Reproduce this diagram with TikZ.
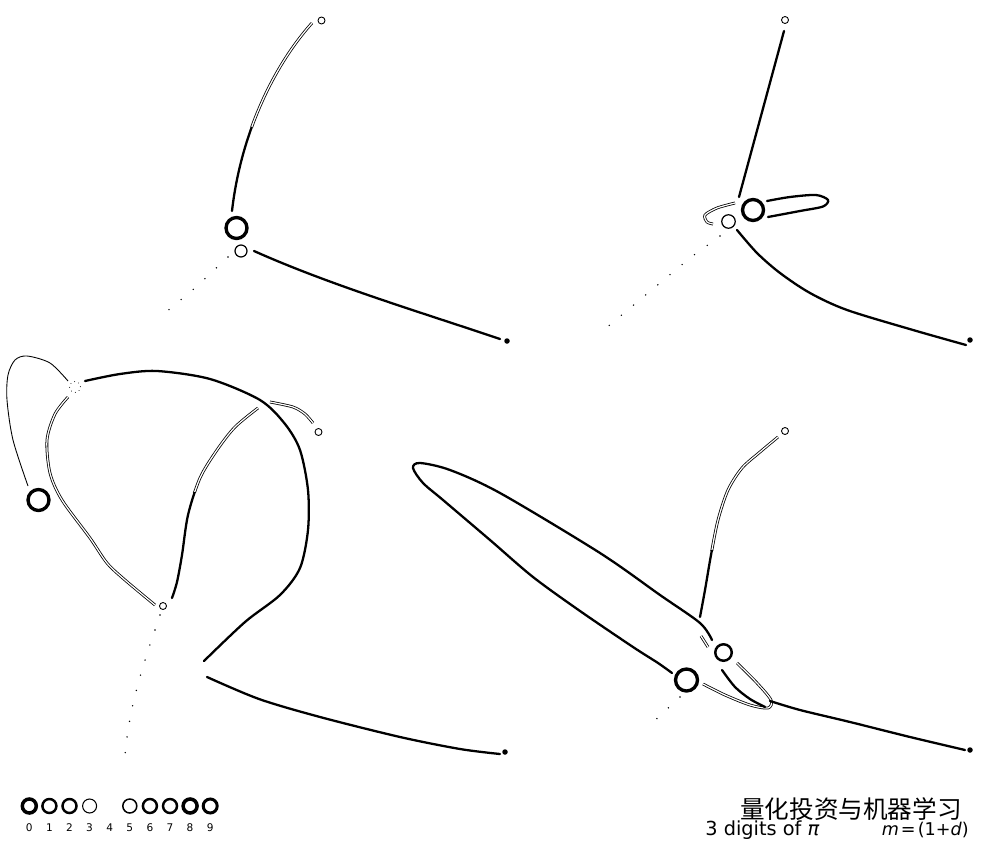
\documentclass[tikz,border=0pt]{standalone}
\usepackage{fontspec}
\newfontfamily\capfont{DejaVu Sans}
\newfontfamily\cjkfont{Noto Sans CJK SC}
\begin{document}
\begin{tikzpicture}[
  x=0.2mm, y=-0.2mm,
  body/.style={circle, draw, inner sep=0pt},
  bigbody/.style={body, line width=1.9pt, minimum size=4.2mm},
  midbody/.style={body, line width=1.4pt, minimum size=3.3mm},
  smallbody/.style={body, line width=0.7pt, minimum size=2.4mm},
  tinybody/.style={body, line width=0.5pt, minimum size=1.4mm},
  endpoint/.style={circle, fill, inner sep=0pt, minimum size=1.1mm},
  trail/.style={line width=1.3pt, line cap=round},
  thintrail/.style={line width=0.5pt},
  hollow/.style={double, double distance=0.7pt, line width=0.45pt},
  ghost/.style={line width=0.9pt, line cap=round, dash pattern=on 0pt off 9pt},
  keyring/.style={body, minimum size=2.8mm},
  keylabel/.style={font=\capfont\fontsize{6}{7}\selectfont, inner sep=0pt}
]
\useasboundingbox (0,0) rectangle (1000,857);

% top left
\node[tinybody] (s1) at (321.5,20.5) {};
\node[bigbody] (b1) at (236.5,228) {};
\node[smallbody] (m1) at (241,251) {};
\node[endpoint] (e1) at (507,341) {};
\coordinate (bend1) at (251.5,127.7);
\draw[hollow] (312,23) .. controls (286.8,51.2) and (265.9,87.7) .. (bend1);
\draw[trail] (bend1) .. controls (241.9,154.4) and (235.2,182.6) .. (232,211);
\draw[trail] (254,251) .. controls (330,285) and (420,312) .. (500,339);
\draw[ghost] (228,257) -- (196,287) -- (165,313);

% top right
\node[tinybody] (s2) at (785,20) {};
\node[bigbody] (b2) at (753,210) {};
\node[smallbody, minimum size=2.7mm] (m2) at (728.5,221.5) {};
\node[endpoint] (e2) at (970,340) {};
\draw[trail] (784,31) -- (739,197);
\draw[trail] plot[smooth] coordinates {(767,201) (790,197) (816,195) (828,200) (823,206.5) (800,211) (768,217)};
\draw[hollow] plot[smooth] coordinates {(735,203) (717,208) (705,215) (707,222) (713,224)};
\draw[trail] plot[smooth] coordinates {(737,230) (757,253) (780,273) (810,293) (847,310) (913,330) (966,345)};
\draw[ghost] (720,236) -- (690,258) -- (600,333);

% bottom left
\node[bigbody] (b3) at (38.5,500) {};
\node[tinybody] (s3) at (318.5,432) {};
\node[body, dotted, minimum size=2.2mm] (f3) at (75,387) {};
\node[tinybody] (m3) at (163,606) {};
\node[endpoint] (e3) at (505,752) {};
\draw[thintrail] plot[smooth] coordinates {(28,486) (13,440) (7,400) (8,375) (15,360) (27,356) (50,363) (68,381)};
\draw[trail] plot[smooth] coordinates {(85,381) (120,374) (157,371) (210,379) (260,400) (285,424) (300,450) (308,490) (308,530) (300,568) (280,595) (245,622) (204,661)};
\draw[trail] plot[smooth] coordinates {(207,677) (259,699) (320,717) (400,737) (460,749) (500,754)};
\draw[hollow] plot[smooth] coordinates {(68,397) (55,414) (47,440) (50,473) (62,500) (90,538) (107,563) (125,580) (155,605)};
\begin{scope}
  \clip (150,395) rectangle (275,492);
  \draw[hollow] plot[smooth] coordinates {(258,408) (235,427) (217,450) (200,478) (188,515) (182,555) (177,582) (172,598)};
\end{scope}
\begin{scope}
  \clip (150,492) rectangle (275,610);
  \draw[trail] plot[smooth] coordinates {(258,408) (235,427) (217,450) (200,478) (188,515) (182,555) (177,582) (172,598)};
\end{scope}
\draw[hollow] plot[smooth] coordinates {(270,402) (293,407) (305,414) (313,423)};
\draw[ghost] (160,615) .. controls (145,660) and (130,700) .. (125,755);

% bottom right
\node[tinybody] (s4) at (785,431) {};
\node[bigbody, minimum size=4.4mm] (b4) at (686.5,680) {};
\node[midbody] (m4) at (723.5,652.5) {};
\node[endpoint] (e4) at (970,750) {};
\begin{scope}
  \clip (690,425) rectangle (790,550);
  \draw[hollow] plot[smooth] coordinates {(778,437) (760,452) (742,468) (728,490) (718,520) (711,555) (705,590) (700,617)};
\end{scope}
\begin{scope}
  \clip (690,550) rectangle (790,625);
  \draw[trail] plot[smooth] coordinates {(778,437) (760,452) (742,468) (728,490) (718,520) (711,555) (705,590) (700,617)};
\end{scope}
\draw[trail] plot[smooth] coordinates {(712,640) (700,623) (660,595) (600,553) (500,493) (450,470) (420,463) (413,468) (423,483) (443,500) (490,540) (533,577) (580,611) (633,647) (658,663) (672,673)};
\draw[hollow] plot[smooth] coordinates {(737,663) (757,683) (771,700) (768,708) (750,705) (725,695) (703,684)};
\draw[trail] plot[smooth] coordinates {(722,670) (735,687) (750,699) (765,707)};
\draw[trail] plot[smooth] coordinates {(770,701) (800,710) (850,722) (910,737) (965,750)};
\draw[hollow] (701,636) -- (708,647);
\draw[ghost] (680,697) -- (650,725);

% digit key
\foreach \d/\w in {0/2.0pt,1/1.4pt,2/1.4pt,3/0.6pt,5/0.85pt,6/1.4pt,7/1.4pt,8/2.0pt,9/1.7pt}
  \node[keyring, line width=\w] (key\d) at ({29.3+20.1*\d},806) {};
\foreach \d in {0,...,9}
  \node[keylabel] (lab\d) at ({29.3+20.1*\d},828) {\d};

\node[font=\cjkfont\fontsize{14}{16}\selectfont, inner sep=0pt] (mark) at (851,809) {量化投资与机器学习};
\node[font=\capfont\fontsize{11}{13}\selectfont, anchor=base west, inner sep=0pt] (digits) at (705,835) {3 digits of \textit{π}};
\node[font=\capfont\fontsize{10}{12}\selectfont, anchor=base east, inner sep=0pt] (mass) at (969,835) {\textit{m}\hspace{0.12em}=\hspace{0.12em}(1+\textit{d})};
\end{tikzpicture}
\end{document}
